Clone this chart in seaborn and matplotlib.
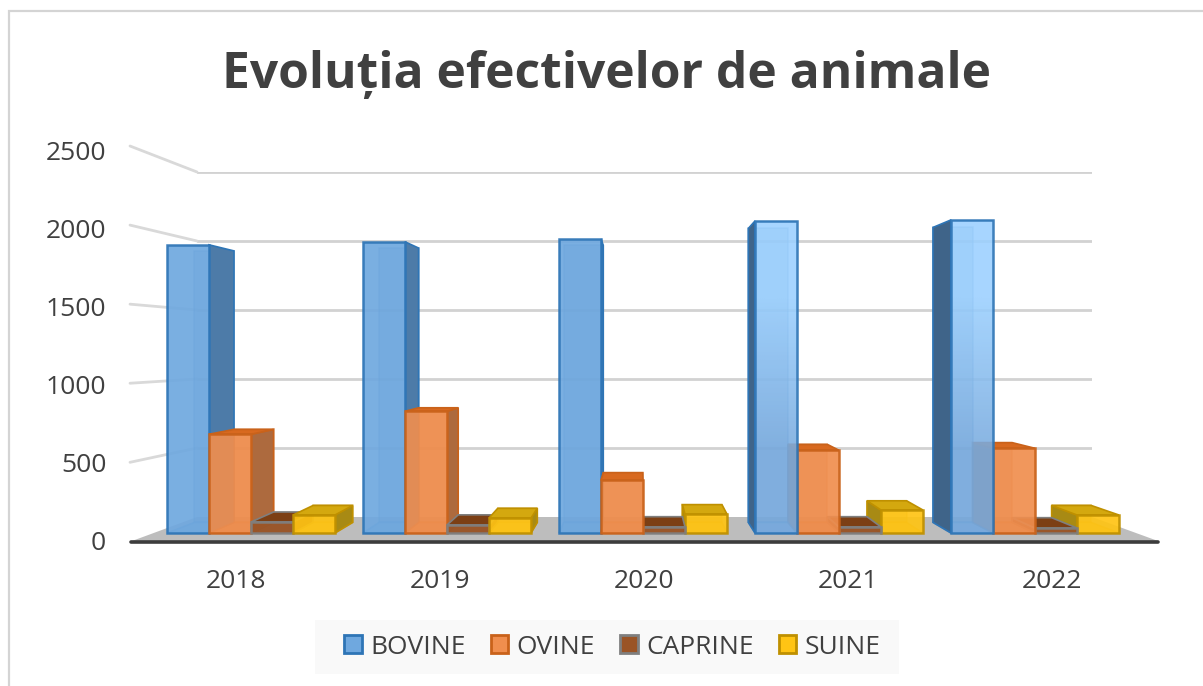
import matplotlib
matplotlib.use("Agg")
import matplotlib.pyplot as plt
from matplotlib.colors import LinearSegmentedColormap
from matplotlib.patches import Patch, Polygon, Rectangle
from matplotlib.transforms import IdentityTransform
import pandas as pd
import seaborn as sns

# Data
years = ["2018", "2019", "2020", "2021", "2022"]
species = ["BOVINE", "OVINE", "CAPRINE", "SUINE"]
bovine = [1909, 1929, 1948, 2067, 2074]
ovine = [654, 806, 350, 548, 561]
caprine = [73, 53, 40, 40, 33]
suine = [119, 99, 125, 152, 119]
y_ticks = [0, 500, 1000, 1500, 2000, 2500]

# Colours per species: front, edge, side, top
front_colors = ["#6fa8df", "#f08e4e", "#9a5426", "#ffc414"]
edge_colors = ["#2e75b6", "#c9621a", "#7f7f7f", "#bf9000"]
side_colors = ["#4d7ba8", "#ad6a3e", "#7a4016", "#a88a14"]
top_colors = ["#5b95cf", "#d8691f", "#7c3f14", "#d4a80f"]
text_color = "#404040"
# the two last blue bars catch more light and have a darker side
light_bar = LinearSegmentedColormap.from_list("light_bar", ["#78aade", "#9bd0ff"])
dark_side = "#3f6489"

W, H = 1203, 686
VP_X, VP_Y = 640, 350   # vanishing point of the fake 3D
DEPTH = 0.058           # how far the back of a bar goes towards it

sns.set_theme(style="white")
plt.rcParams["font.family"] = ["Open Sans", "DejaVu Sans"]
fig = plt.figure(figsize=(W / 100, H / 100), dpi=100)


# Axes placed by image pixels (one for each depth plane of the chart)
def plane_axes(left, right, top, bottom):
    ax = fig.add_axes([left / W, 1 - bottom / H, (right - left) / W, (bottom - top) / H])
    ax.set_facecolor("none")
    sns.despine(ax=ax, left=True, bottom=True)
    return ax


def px(x, y):
    return (x, H - y)


def toward_vp(point, t):
    return (point[0] + t * (VP_X - point[0]), point[1] + t * (H - VP_Y - point[1]))


# Outer frame of the picture, open at the right and bottom
fig.add_artist(Rectangle((9 / W, -0.1), 1.2, 1.1 - 11 / H, transform=fig.transFigure,
                         facecolor="none", edgecolor="#d4d4d4", linewidth=1.6))

# Back wall with gridlines
wall_ax = plane_axes(197, 1092, 172, 517)
wall_ax.set_ylim(0, 2500)
wall_ax.set_xlim(0, 1)
wall_ax.set_yticks(y_ticks[1:])
wall_ax.set_xticks([])
wall_ax.tick_params(left=False, labelleft=False)
wall_ax.grid(axis="y", color="#d2d2d2", linewidth=2.0)
wall_ax.set_axisbelow(True)

# Diagonal bits of the gridlines, going out to the front axis
for tick in y_ticks[1:]:
    x_back, y_back = wall_ax.transData.transform((0, tick))
    start = toward_vp((x_back, y_back), -0.146)
    wall_ax.plot([130, x_back], [start[1], y_back], color="#d9d9d9", linewidth=2.0,
                 transform=IdentityTransform(), clip_on=False, zorder=1)

# Floor
floor = Polygon([px(132, 541), px(1158, 541), px(1092, 517), px(197, 517)], closed=True,
                facecolor="#bdbdbd", edgecolor="none", transform=IdentityTransform(),
                clip_on=False, zorder=2)
wall_ax.add_patch(floor)

# Front axis: tick labels and the dark edge of the floor
front_ax = plane_axes(134, 1154, 150, 541)
front_ax.set_xlim(-0.5, 4.5)
front_ax.set_ylim(0, 2500)
front_ax.set_xticks(range(len(years)))
front_ax.set_xticklabels(years)
front_ax.set_yticks(y_ticks)
front_ax.tick_params(axis="both", length=0, labelsize=19, labelcolor=text_color)
front_ax.tick_params(axis="x", pad=20)
front_ax.tick_params(axis="y", pad=20)
front_ax.plot([131, 1158], [H - 542, H - 542], color="#3c3c3c", linewidth=2.6,
              transform=IdentityTransform(), clip_on=False, solid_capstyle="round")

# Bars sit on a plane a bit behind the front axis
bar_ax = plane_axes(153, 1133, 155.6, 533)
table = pd.DataFrame({"an": years, "BOVINE": bovine, "OVINE": ovine,
                      "CAPRINE": caprine, "SUINE": suine})
table = table.melt(id_vars="an", value_vars=species, var_name="specie", value_name="efectiv")
sns.barplot(data=table, x="an", y="efectiv", hue="specie", hue_order=species,
            palette=front_colors, width=0.857, saturation=1, legend=False, ax=bar_ax)
bar_ax.set_xlim(-0.5, 4.5)
bar_ax.set_ylim(0, 2500)
bar_ax.set_xlabel("")
bar_ax.set_ylabel("")
bar_ax.set_xticks([])
bar_ax.set_yticks([])

# Fake the 3D look: each bar gets back, side and top faces from its own geometry
n_years = len(years)
for i, bar in enumerate(list(bar_ax.patches)):
    s = i // n_years
    year = i % n_years
    x0, y0 = bar_ax.transData.transform((bar.get_x(), 0))
    x1, y1 = bar_ax.transData.transform((bar.get_x() + bar.get_width(), bar.get_height()))
    corners = [(x0, y0), (x1, y0), (x1, y1), (x0, y1)]
    back = [toward_vp(c, DEPTH) for c in corners]
    lit = s == 0 and year >= 3
    side = dark_side if lit else side_colors[s]

    # bars nearer to the vanishing point hide the others
    z = 100 - abs((x0 + x1) / 2 - VP_X) / 100

    def face(points, color, alpha=1.0):
        bar_ax.add_patch(Polygon(points, closed=True, facecolor=color, edgecolor=edge_colors[s],
                                 linewidth=1.2, alpha=alpha, transform=IdentityTransform(),
                                 clip_on=False, zorder=z))

    face(back, side_colors[s], 0.35)
    face([corners[0], corners[1], back[1], back[0]], top_colors[s], 0.5)
    if back[2][0] > x1:
        face([corners[1], corners[2], back[2], back[1]], side)
    if back[3][0] < x0:
        face([corners[0], corners[3], back[3], back[0]], side)
    if back[2][1] > y1:
        face([corners[3], corners[2], back[2], back[3]], top_colors[s])

    if lit:
        shade = bar_ax.imshow([[1.0], [0.0]], cmap=light_bar, aspect="auto", interpolation="bilinear",
                              extent=(bar.get_x(), bar.get_x() + bar.get_width(), 0, bar.get_height()),
                              alpha=0.88, zorder=z + 0.0005)
        shade.set_clip_path(bar)
        bar.set_facecolor("none")

    bar.set_edgecolor(edge_colors[s])
    bar.set_linewidth(1.8)
    bar.set_alpha(0.92)
    bar.set_zorder(z + 0.001)
    bar.set_clip_on(False)

bar_ax.set_xlim(-0.5, 4.5)
bar_ax.set_ylim(0, 2500)

# Title and legend
fig.text(607 / W, 1 - 75 / H, "Evoluția efectivelor de animale", ha="center", va="center",
         fontsize=35.8, fontweight="bold", color=text_color)

# legend background is wider on the left than the legend itself
fig.add_artist(Rectangle((315 / W, 1 - 674 / H), 584 / W, 54 / H, transform=fig.transFigure,
                         facecolor="#f9f9f9", edgecolor="none"))
handles = [Patch(facecolor=front_colors[k], edgecolor=edge_colors[k], linewidth=2, label=species[k])
           for k in range(len(species))]
legend = fig.legend(handles=handles, loc="center", bbox_to_anchor=(612.5 / W, 1 - 647 / H), ncol=4,
                    frameon=False, fontsize=19, handlelength=0.65, handleheight=0.65,
                    handletextpad=0.32, columnspacing=0.96, labelcolor=text_color)

fig.savefig("out.png", dpi=100, facecolor="white")
